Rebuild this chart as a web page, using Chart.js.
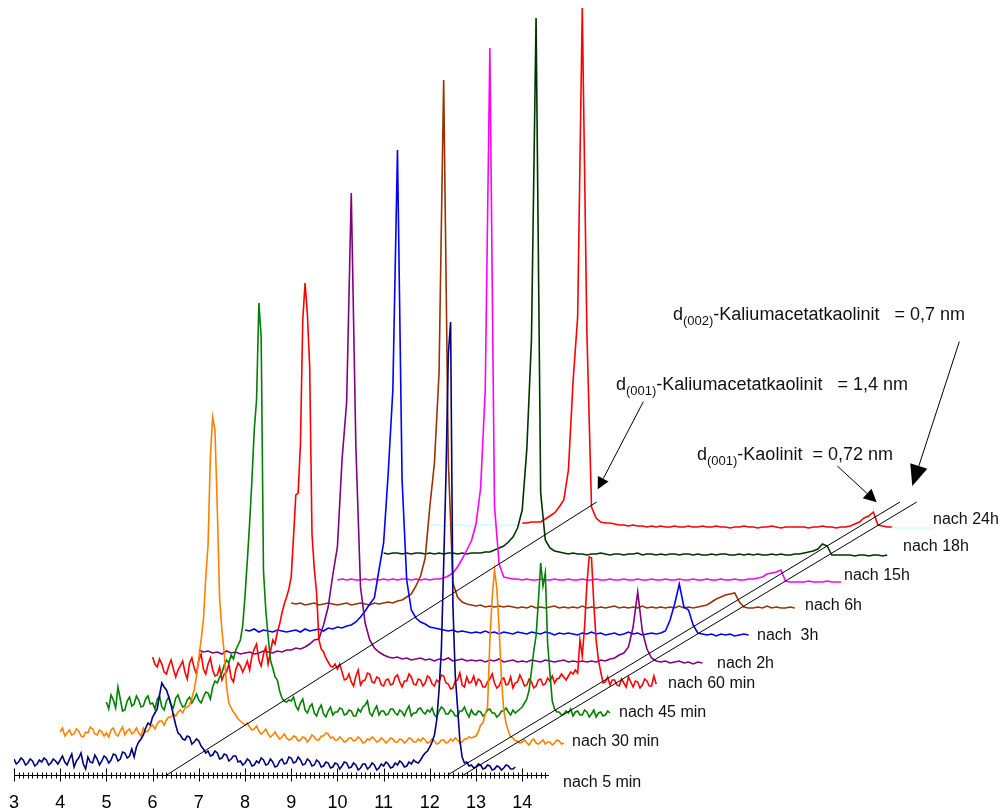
<!DOCTYPE html>
<html>
<head>
<meta charset="utf-8">
<title>Kaolinit – Kaliumacetat Interkalation</title>
<script src="https://cdn.jsdelivr.net/npm/chart.js@4.4.1/dist/chart.umd.min.js"></script>
<style>
  html, body { margin: 0; padding: 0; background: #fff; }
  #wrap { width: 1001px; height: 812px; position: relative; }
</style>
</head>
<body>
<div id="wrap"><canvas id="chart"></canvas></div>
<script>
// XRD waterfall: kaolinite + potassium acetate, scans after 5 min ... 24 h.
// The noisy early scans are read on a 0.05° grid, the later ones on 0.1°.
// Intensities in counts above 0.

const TWO_THETA_FINE = [
  3.00, 3.05, 3.10, 3.15, 3.20, 3.25, 3.30, 3.35, 3.40, 3.45, 3.50, 3.55, 3.60, 3.65, 3.70, 3.75, 3.80, 3.85, 3.90, 3.95,
  4.00, 4.05, 4.10, 4.15, 4.20, 4.25, 4.30, 4.35, 4.40, 4.45, 4.50, 4.55, 4.60, 4.65, 4.70, 4.75, 4.80, 4.85, 4.90, 4.95,
  5.00, 5.05, 5.10, 5.15, 5.20, 5.25, 5.30, 5.35, 5.40, 5.45, 5.50, 5.55, 5.60, 5.65, 5.70, 5.75, 5.80, 5.85, 5.90, 5.95,
  6.00, 6.05, 6.10, 6.15, 6.20, 6.25, 6.30, 6.35, 6.40, 6.45, 6.50, 6.55, 6.60, 6.65, 6.70, 6.75, 6.80, 6.85, 6.90, 6.95,
  7.00, 7.05, 7.10, 7.15, 7.20, 7.25, 7.30, 7.35, 7.40, 7.45, 7.50, 7.55, 7.60, 7.65, 7.70, 7.75, 7.80, 7.85, 7.90, 7.95,
  8.00, 8.05, 8.10, 8.15, 8.20, 8.25, 8.30, 8.35, 8.40, 8.45, 8.50, 8.55, 8.60, 8.65, 8.70, 8.75, 8.80, 8.85, 8.90, 8.95,
  9.00, 9.05, 9.10, 9.15, 9.20, 9.25, 9.30, 9.35, 9.40, 9.45, 9.50, 9.55, 9.60, 9.65, 9.70, 9.75, 9.80, 9.85, 9.90, 9.95,
  10.00, 10.05, 10.10, 10.15, 10.20, 10.25, 10.30, 10.35, 10.40, 10.45, 10.50, 10.55, 10.60, 10.65, 10.70, 10.75, 10.80, 10.85, 10.90, 10.95,
  11.00, 11.05, 11.10, 11.15, 11.20, 11.25, 11.30, 11.35, 11.40, 11.45, 11.50, 11.55, 11.60, 11.65, 11.70, 11.75, 11.80, 11.85, 11.90, 11.95,
  12.00, 12.05, 12.10, 12.15, 12.20, 12.25, 12.30, 12.35, 12.40, 12.45, 12.50, 12.55, 12.60, 12.65, 12.70, 12.75, 12.80, 12.85, 12.90, 12.95,
  13.00, 13.05, 13.10, 13.15, 13.20, 13.25, 13.30, 13.35, 13.40, 13.45, 13.50, 13.55, 13.60, 13.65, 13.70, 13.75, 13.80, 13.85, 13.90, 13.95,
];

const TWO_THETA = [
  3.0, 3.1, 3.2, 3.3, 3.4, 3.5, 3.6, 3.7, 3.8, 3.9,
  4.0, 4.1, 4.2, 4.3, 4.4, 4.5, 4.6, 4.7, 4.8, 4.9,
  5.0, 5.1, 5.2, 5.3, 5.4, 5.5, 5.6, 5.7, 5.8, 5.9,
  6.0, 6.1, 6.2, 6.3, 6.4, 6.5, 6.6, 6.7, 6.8, 6.9,
  7.0, 7.1, 7.2, 7.3, 7.4, 7.5, 7.6, 7.7, 7.8, 7.9,
  8.0, 8.1, 8.2, 8.3, 8.4, 8.5, 8.6, 8.7, 8.8, 8.9,
  9.0, 9.1, 9.2, 9.3, 9.4, 9.5, 9.6, 9.7, 9.8, 9.9,
  10.0, 10.1, 10.2, 10.3, 10.4, 10.5, 10.6, 10.7, 10.8, 10.9,
  11.0, 11.1, 11.2, 11.3, 11.4, 11.5, 11.6, 11.7, 11.8, 11.9,
  12.0, 12.1, 12.2, 12.3, 12.4, 12.5, 12.6, 12.7, 12.8, 12.9,
  13.0, 13.1, 13.2, 13.3, 13.4, 13.5, 13.6, 13.7, 13.8, 13.9,
];

const TICK_LABELS = [3, 4, 5, 6, 7, 8, 9, 10, 11, 12, 13, 14];

const SERIES_LABELS = [
  "nach 5 min", "nach 30 min", "nach 45 min", "nach 60 min", "nach 2h",
  "nach  3h", "nach 6h", "nach 15h", "nach 18h", "nach 24h",
];

// ---- 0.05° grid ----
const NAVY_5MIN = [
  16, 11, 13, 17, 15, 10, 12, 16, 14, 9, 11, 15, 13, 17, 15, 10, 12, 16, 14, 11,
  15, 19, 13, 10, 16, 21, 8, 14, 17, 22, 11, 6, 18, 13, 12, 20, 16, 10, 14, 19,
  17, 12, 15, 21, 20, 14, 16, 23, 22, 17, 19, 26, 18, 28, 33, 36, 40, 47, 52, 50,
  58, 62, 66, 80, 92, 88, 85, 78, 70, 60, 50, 42, 40, 36, 35, 39, 38, 31, 33, 36,
  34, 29, 26, 22, 24, 19, 20, 24, 22, 16, 17, 21, 20, 14, 16, 19, 19, 13, 14, 10,
  12, 16, 14, 9, 10, 14, 12, 17, 15, 10, 11, 16, 13, 8, 9, 14, 16, 11, 12, 18,
  17, 12, 13, 18, 15, 10, 11, 16, 14, 9, 10, 15, 13, 8, 9, 13, 12, 7, 8, 12,
  11, 6, 9, 13, 12, 7, 8, 12, 10, 5, 7, 11, 11, 6, 8, 12, 10, 5, 7, 11,
  9, 13, 11, 7, 8, 12, 10, 14, 12, 8, 9, 13, 11, 15, 13, 12, 15, 19, 22, 24,
  28, 33, 40, 55, 85, 125, 210, 300, 420, 453, 170, 100, 68, 35, 18, 12, 13, 9, 10, 7,
  8, 11, 10, 6, 7, 10, 9, 5, 6, 9, 8, 5, 7, 10, 9, 6, 6, 8, null, null,
];

const ORANGE_30MIN = [
  16, 20, 12, 15, 18, 13, 14, 19, 17, 12, 11, 16, 15, 21, 19, 14, 13, 18, 16, 12,
  15, 11, 18, 20, 14, 12, 17, 21, 13, 17, 19, 14, 16, 20, 15, 12, 20, 16, 17, 21,
  23, 19, 24, 27, 27, 23, 28, 31, 31, 34, 32, 36, 38, 35, 40, 41, 43, 50, 58, 72,
  90, 108, 128, 170, 203, 291, 331, 318, 240, 150, 118, 95, 62, 45, 40, 36, 33, 29, 27, 25,
  23, 25, 21, 18, 19, 22, 17, 14, 16, 19, 14, 11, 13, 16, 12, 9, 11, 14, 10, 8,
  9, 12, 11, 7, 8, 11, 10, 6, 9, 13, 11, 8, 8, 12, 12, 15, 14, 10, 11, 8,
  8, 11, 9, 6, 7, 10, 10, 7, 8, 11, 9, 5, 6, 9, 8, 11, 9, 6, 7, 10,
  8, 5, 7, 10, 9, 6, 6, 9, 8, 5, 7, 10, 9, 6, 6, 9, 7, 10, 8, 5,
  6, 9, 7, 4, 5, 8, 8, 5, 6, 9, 7, 10, 8, 5, 6, 9, 9, 11, 10, 11,
  12, 16, 23, 25, 34, 41, 108, 150, 178, 160, 120, 70, 38, 25, 17, 11, 10, 7, 7, 5,
  6, 8, 5, 3, 7, 9, 5, 4, 6, 8, 4, 6, 6, 3, 5, 8, 7, 4, 5, null,
];

const GREEN_45MIN = [
  19, 12, 26, 21, 13, 34, 22, 10, 11, 20, 24, 15, 17, 25, 21, 14, 15, 22, 25, 17,
  18, 12, 22, 25, 14, 11, 20, 24, 16, 13, 23, 26, 19, 14, 15, 21, 24, 18, 22, 27,
  21, 18, 24, 29, 28, 22, 34, 40, 38, 44, 48, 56, 61, 58, 66, 62, 71, 76, 81, 95,
  125, 160, 198, 241, 291, 321, 418, 384, 150, 111, 85, 61, 53, 44, 41, 30, 23, 20, 19, 21,
  20, 24, 15, 11, 18, 22, 11, 8, 14, 17, 8, 5, 12, 16, 7, 4, 10, 14, 6, 9,
  9, 13, 12, 6, 7, 11, 10, 5, 5, 12, 9, 14, 16, 20, 8, 5, 11, 15, 6, 10,
  10, 6, 7, 12, 12, 8, 6, 11, 9, 5, 11, 15, 5, 8, 8, 12, 13, 9, 7, 11,
  9, 13, 6, 4, 10, 14, 12, 7, 7, 11, 9, 5, 5, 10, 10, 14, 8, 4, 11, 7,
  6, 10, 9, 5, 7, 11, 12, 8, 8, 4, 6, 10, 10, 13, 9, 6, 11, 8, 10, 12,
  14, 18, 22, 31, 50, 70, 85, 120, 158, 135, 148, 78, 48, 20, 12, 9, 9, 6, 7, 10,
  8, 12, 5, 9, 10, 6, 6, 11, 9, 4, 7, 11, 4, 8, 9, 5, 6, 10, 8, null,
];

const RED_60MIN = [
  37, 30, 27, 35, 30, 22, 20, 28, 34, 25, 17, 24, 28, 33, 22, 15, 31, 36, 26, 20,
  34, 40, 25, 20, 30, 36, 24, 18, 19, 27, 14, 20, 22, 30, 16, 12, 24, 31, 28, 22,
  27, 33, 24, 38, 45, 50, 34, 28, 40, 47, 30, 42, 54, 50, 62, 70, 81, 90, 97, 105,
  117, 157, 199, 201, 250, 374, 411, 380, 327, 160, 125, 101, 54, 45, 42, 36, 32, 28, 27, 30,
  25, 30, 22, 14, 15, 20, 12, 8, 18, 24, 9, 13, 14, 21, 20, 12, 11, 17, 16, 9,
  8, 14, 15, 9, 10, 17, 19, 12, 7, 13, 13, 20, 17, 10, 9, 15, 14, 8, 11, 18,
  16, 10, 8, 14, 12, 19, 18, 11, 10, 5, 6, 13, 14, 21, 9, 7, 17, 11, 12, 18,
  9, 15, 13, 7, 7, 12, 15, 20, 11, 6, 8, 14, 16, 9, 10, 17, 6, 11, 12, 19,
  14, 8, 9, 15, 12, 6, 8, 14, 15, 9, 10, 16, 13, 18, 11, 15, 16, 20, 17, 14,
  18, 22, 20, 24, 21, 54, 38, 67, 110, 137, 136, 90, 54, 34, 22, 11, 12, 17, 9, 14,
  14, 9, 8, 15, 11, 7, 17, 12, 7, 13, 12, 6, 9, 15, 13, 8, 8, 18, 10, null,
];

// ---- 0.1° grid ----
const PURPLE_2H = [
  17, 15, 16, 14, 15, 13, 16, 14, 15, 13,
  14, 15, 13, 14, 16, 15, 14, 16, 15, 17,
  17, 19, 18, 20, 23, 27, 28, 42, 60, 92,
  120, 207, 265, 474, 220, 80, 44, 27, 19, 15,
  12, 10, 9, 10, 8, 9, 7, 8, 9, 7,
  8, 6, 8, 7, 9, 6, 7, 8, 6, 7,
  6, 7, 5, 7, 6, 8, 5, 6, 7, 5,
  6, 5, 7, 6, 5, 7, 6, 5, 6, 7,
  5, 6, 5, 6, 5, 6, 5, 7, 6, 8,
  9, 12, 14, 20, 40, 75, 36, 18, 9, 6,
  5, 6, 4, 5, 6, 4, 5, 3, 5, 4,
];

const BLUE_3H = [
  10, 9, 11, 8, 10, 9, 8, 10, 9, 8,
  9, 10, 8, 11, 9, 10, 11, 9, 12, 11,
  13, 12, 14, 15, 18, 23, 29, 36, 42, 70,
  97, 167, 250, 490, 160, 60, 30, 22, 18, 16,
  13, 12, 11, 10, 9, 10, 8, 9, 8, 7,
  8, 7, 9, 7, 8, 6, 8, 7, 6, 8,
  7, 6, 8, 7, 6, 8, 7, 5, 7, 6,
  7, 6, 5, 7, 6, 8, 6, 7, 5, 6,
  7, 5, 6, 8, 6, 7, 5, 6, 7, 6,
  7, 9, 20, 36, 56, 33, 30, 15, 7, 6,
  5, 6, 4, 6, 5, 6, 4, 5, 6, 5,
];

const BROWN_6H = [
  10, 9, 10, 8, 9, 10, 8, 9, 10, 9,
  8, 9, 10, 8, 9, 10, 9, 8, 10, 9,
  10, 11, 10, 12, 13, 16, 19, 27, 37, 55,
  106, 150, 240, 533, 153, 30, 16, 11, 9, 8,
  7, 8, 6, 7, 6, 7, 6, 7, 6, 5,
  6, 5, 7, 5, 6, 5, 6, 7, 5, 6,
  5, 6, 5, 7, 5, 6, 5, 6, 5, 6,
  7, 5, 6, 5, 6, 5, 7, 5, 6, 5,
  6, 5, 6, 5, 7, 5, 6, 5, 6, 7,
  8, 11, 14, 16, 18, 19, 20, 11, 6, 5,
  5, 6, 5, 7, 5, 6, 5, 5, 6, 5,
];

const MAGENTA_15H = [
  6, 7, 6, 7, 6, 6, 7, 6, 7, 6,
  7, 6, 7, 6, 7, 7, 6, 7, 6, 7,
  6, 7, 7, 8, 10, 13, 19, 27, 36, 45,
  62, 98, 196, 538, 80, 22, 9, 8, 7, 7,
  6, 7, 6, 6, 7, 6, 6, 7, 6, 6,
  7, 6, 6, 7, 6, 6, 7, 6, 6, 7,
  6, 6, 7, 6, 6, 7, 6, 6, 7, 6,
  6, 7, 6, 6, 7, 6, 6, 7, 6, 6,
  7, 6, 6, 7, 6, 6, 7, 6, 6, 7,
  7, 8, 9, 12, 13, 14, 16, 5, 4, 4,
  4, 4, 5, 4, 4, 4, 5, 4, 4, 4,
];

const DKGREEN_18H = [
  6, 5, 6, 6, 5, 6, 5, 6, 6, 5,
  6, 5, 6, 5, 6, 6, 5, 6, 5, 6,
  6, 6, 7, 7, 9, 11, 13, 17, 22, 31,
  49, 110, 219, 541, 66, 19, 11, 8, 7, 6,
  5, 6, 5, 5, 4, 5, 5, 6, 5, 4,
  5, 5, 4, 5, 5, 6, 4, 5, 5, 4,
  5, 4, 5, 5, 4, 5, 5, 4, 5, 4,
  4, 5, 4, 5, 5, 4, 4, 5, 4, 5,
  4, 5, 4, 4, 5, 4, 5, 4, 4, 5,
  5, 6, 7, 8, 10, 15, 13, 4, 4, 4,
  4, 4, 3, 4, 4, 3, 4, 4, 3, 4,
];

// 24 h scan: red between 5.0 and 13.0 °, the pale cyan trace shows at both ends
const RED_24H = [
  null, null, null, null, null, null, null, null, null, null,
  null, null, null, null, null, null, null, null, null, null,
  9, 9, 10, 10, 10, 13, 16, 19, 25, 32,
  62, 150, 215, 524, 200, 25, 14, 10, 9, 9,
  8, 7, 7, 6, 7, 6, 6, 5, 6, 5,
  6, 5, 5, 6, 5, 5, 6, 5, 5, 6,
  5, 5, 6, 5, 5, 4, 5, 5, 6, 5,
  5, 4, 5, 5, 6, 5, 4, 5, 5, 5,
  5, 5, 4, 5, 5, 6, 5, 5, 4, 5,
  5, 6, 8, 10, 14, 16, 20, 7, 6, 5,
  5, null, null, null, null, null, null, null, null, null,
];

const CYAN_24H = [
  7, 7, 7, 6, 7, 7, 7, 7, 6, 7,
  7, 7, 7, 7, 7, 6, 7, 7, 7, 7,
  8, null, null, null, null, null, null, null, null, null,
  null, null, null, null, null, null, null, null, null, null,
  null, null, null, null, null, null, null, null, null, null,
  null, null, null, null, null, null, null, null, null, null,
  null, null, null, null, null, null, null, null, null, null,
  null, null, null, null, null, null, null, null, null, null,
  null, null, null, null, null, null, null, null, null, null,
  null, null, null, null, null, null, null, null, null, null,
  5, 4, 4, 4, 4, 4, 4, 4, 4, 4,
];

// --- layout -----------------------------------------------------------
const SHIFT_X = 1.0; // each later scan is moved one degree to the right
const SHIFT_Y = 27;  // ... and 27 counts up
const AXIS_TO = 14.58;

// guide lines through the peak positions (data units: °2θ, counts)
const GUIDE_LINES = [
  [[6.305, 0], [15.612, 273]],
  [[12.387, 0], [22.177, 273]],
  [[12.725, 0], [22.539, 273]],
];

// arrows in pixels: from, tip, head length, head half width
const ARROWS = [
  { from: [959.3, 341.7], tip: [912.3, 486], len: 21, half: 9 },
  { from: [643.3, 401.7], tip: [597.7, 489.3], len: 12, half: 6 },
  { from: [837.3, 466], tip: [876.7, 502.3], len: 13, half: 6.5 },
];

const NOTES = [
  { x: 673, y: 320, sub: "(002)", rest: "-Kaliumacetatkaolinit   = 0,7 nm" },
  { x: 616, y: 390, sub: "(001)", rest: "-Kaliumacetatkaolinit   = 1,4 nm" },
  { x: 697, y: 460, sub: "(001)", rest: "-Kaolinit  = 0,72 nm" },
];

// left x / baseline y of "nach ..." labels
const LABEL_POS = [
  [563, 787], [572, 746], [619, 717], [668, 688], [717, 668],
  [757, 640], [805, 610], [844, 580], [903, 551], [933, 524],
];

const FONT = '"Liberation Sans", Arial, Helvetica, sans-serif';

const SCANS = [
  { grid: TWO_THETA_FINE, values: NAVY_5MIN, color: "#000080", step: 0 },
  { grid: TWO_THETA_FINE, values: ORANGE_30MIN, color: "#ff8000", step: 1 },
  { grid: TWO_THETA_FINE, values: GREEN_45MIN, color: "#008000", step: 2 },
  { grid: TWO_THETA_FINE, values: RED_60MIN, color: "#ff0000", step: 3 },
  { grid: TWO_THETA, values: PURPLE_2H, color: "#800080", step: 4 },
  { grid: TWO_THETA, values: BLUE_3H, color: "#0000ff", step: 5 },
  { grid: TWO_THETA, values: BROWN_6H, color: "#993300", step: 6 },
  { grid: TWO_THETA, values: MAGENTA_15H, color: "#ff00ff", step: 7 },
  { grid: TWO_THETA, values: DKGREEN_18H, color: "#003300", step: 8 },
  { grid: TWO_THETA, values: RED_24H, color: "#ff0000", step: 9 },
  { grid: TWO_THETA, values: CYAN_24H, color: "#ccffff", step: 9 },
];

// dataset 0 is painted last, so the 5 min scan sits in front
const datasets = SCANS.map((s) => ({
  data: s.grid.map((t, k) => ({
    x: t + s.step * SHIFT_X,
    y: s.values[k] == null ? null : s.values[k] + s.step * SHIFT_Y,
  })),
  borderColor: s.color,
  borderWidth: 1.6,
  pointRadius: 0,
  tension: 0,
  fill: false,
  spanGaps: false,
}));

function drawArrow(ctx, a) {
  const dx = a.tip[0] - a.from[0], dy = a.tip[1] - a.from[1];
  const d = Math.hypot(dx, dy);
  const ux = dx / d, uy = dy / d;
  const bx = a.tip[0] - ux * a.len, by = a.tip[1] - uy * a.len;
  ctx.beginPath();
  ctx.moveTo(a.from[0], a.from[1]);
  ctx.lineTo(bx, by);
  ctx.stroke();
  ctx.beginPath();
  ctx.moveTo(a.tip[0], a.tip[1]);
  ctx.lineTo(bx - uy * a.half, by + ux * a.half);
  ctx.lineTo(bx + uy * a.half, by - ux * a.half);
  ctx.closePath();
  ctx.fill();
}

const overlay = {
  id: "overlay",
  afterDatasetsDraw(chart) {
    const { ctx, scales: { x, y } } = chart;
    ctx.save();
    ctx.strokeStyle = "#000";
    ctx.fillStyle = "#000";
    ctx.lineWidth = 1;

    for (const [[x1, y1], [x2, y2]] of GUIDE_LINES) {
      ctx.beginPath();
      ctx.moveTo(x.getPixelForValue(x1), y.getPixelForValue(y1));
      ctx.lineTo(x.getPixelForValue(x2), y.getPixelForValue(y2));
      ctx.stroke();
    }
    ARROWS.forEach((a) => drawArrow(ctx, a));

    // bottom axis with 0.1° minor ticks
    const y0 = Math.round(y.getPixelForValue(0)) + 0.5;
    ctx.lineWidth = 1.2;
    ctx.beginPath();
    ctx.moveTo(x.getPixelForValue(3), y0);
    ctx.lineTo(x.getPixelForValue(AXIS_TO), y0);
    ctx.stroke();
    ctx.lineWidth = 1;
    for (let k = 0; k <= 115; k++) {
      const px = Math.round(x.getPixelForValue(3 + k / 10)) + 0.5;
      const major = k % 10 === 0;
      ctx.beginPath();
      ctx.moveTo(px, y0 - (major ? 7 : 3));
      ctx.lineTo(px, y0 + (major ? 6 : 3));
      ctx.stroke();
    }
    ctx.font = `18px ${FONT}`;
    ctx.textAlign = "center";
    ctx.textBaseline = "alphabetic";
    TICK_LABELS.forEach((v) => ctx.fillText(String(v), x.getPixelForValue(v), 808));

    // scan labels
    ctx.textAlign = "left";
    ctx.fillStyle = "#111";
    ctx.font = `16px ${FONT}`;
    SERIES_LABELS.forEach((t, i) => ctx.fillText(t, LABEL_POS[i][0], LABEL_POS[i][1]));

    // reflection notes with subscript
    for (const n of NOTES) {
      let cx = n.x;
      ctx.font = `18px ${FONT}`;
      ctx.fillText("d", cx, n.y);
      cx += ctx.measureText("d").width;
      ctx.font = `13px ${FONT}`;
      ctx.fillText(n.sub, cx, n.y + 5);
      cx += ctx.measureText(n.sub).width;
      ctx.font = `18px ${FONT}`;
      ctx.fillText(n.rest, cx, n.y);
    }
    ctx.restore();
  },
};

new Chart(document.getElementById("chart"), {
  type: "line",
  data: { datasets },
  options: {
    responsive: true,
    maintainAspectRatio: false,
    animation: false,
    devicePixelRatio: 1,
    layout: { padding: { left: 14, right: 2, top: 0, bottom: 37 } },
    plugins: { legend: { display: false }, tooltip: { enabled: false } },
    scales: {
      x: { type: "linear", min: 3, max: 24.32, display: false },
      y: { min: 0, max: 775, display: false },
    },
  },
  plugins: [overlay],
});
</script>
</body>
</html>
